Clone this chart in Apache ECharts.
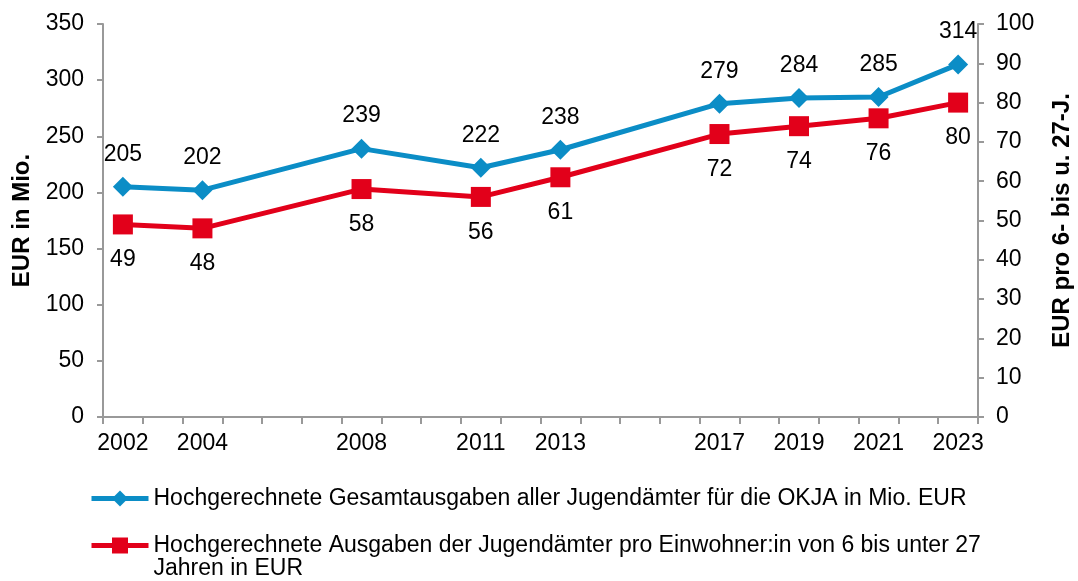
<!DOCTYPE html>
<html>
<head>
<meta charset="utf-8">
<script src="https://cdn.jsdelivr.net/npm/echarts@6/dist/echarts.min.js"></script>
<style>
  html, body { margin: 0; padding: 0; background: #fff; }
  #chart { width: 1078px; height: 581px; }
</style>
</head>
<body>
<div id="chart"></div>
<script>
(function() {
    var firstYear = 2002;
    var lastYear = 2023;
    var years = [2002, 2004, 2008, 2011, 2013, 2017, 2019, 2021, 2023];
    var totalMio = [205, 202, 239, 222, 238, 279, 284, 285, 314];
    var perHead = [49, 48, 58, 56, 61, 72, 74, 76, 80];

    var nameTotal = 'Hochgerechnete Gesamtausgaben aller Jugendämter für die OKJA in Mio. EUR';
    var namePerHead = 'Hochgerechnete Ausgaben der Jugendämter pro Einwohner:in von 6 bis unter 27 Jahren in EUR';

    // one category per calendar year, data only on survey years
    var cats = [];
    for (var y = firstYear; y <= lastYear; y++) cats.push(String(y));

    function toSlots(vals) {
        var out = cats.map(function() { return null; });
        years.forEach(function(yr, i) { out[yr - firstYear] = vals[i]; });
        return out;
    }

    var font = 'Liberation Sans, Arial, sans-serif';
    var fs = 23;
    var axisGray = '#999999';

    var myChart = echarts.init(document.getElementById('chart'));
    var option = {
        animation: false,
        textStyle: { fontFamily: font, color: '#000' },
        grid: { left: 103, right: 100, top: 24, bottom: 164, outerBoundsMode: 'none' },
        legend: [{
            data: [nameTotal],
            left: 84,
            top: 482,
            itemWidth: 57,
            itemHeight: 20,
            lineStyle: { width: 5 },
            textStyle: { fontFamily: font, fontSize: fs, color: '#000' }
        }, {
            data: [namePerHead],
            left: 84,
            top: 506,
            itemWidth: 57,
            itemHeight: 20,
            lineStyle: { width: 5 },
            // blank first line keeps the marker level with the first text line
            formatter: function(n) {
                return ' \n' + n.replace('27 Jahren', '27\nJahren');
            },
            textStyle: { fontFamily: font, fontSize: fs, color: '#000', lineHeight: 23 }
        }],
        xAxis: {
            type: 'category',
            data: cats,
            boundaryGap: true,
            axisLine: { lineStyle: { color: axisGray, width: 2 } },
            axisTick: { show: true, interval: 0, length: 7, lineStyle: { color: axisGray, width: 2 } },
            axisLabel: {
                interval: function(idx, val) { return years.indexOf(+val) >= 0; },
                fontSize: fs,
                color: '#000',
                margin: 15
            },
            splitLine: { show: false }
        },
        yAxis: [{
            type: 'value',
            min: 0,
            max: 350,
            interval: 50,
            name: 'EUR in Mio.',
            nameLocation: 'middle',
            nameGap: 68,
            nameTextStyle: { fontSize: 24, fontWeight: 'bold', color: '#000' },
            axisLine: { show: true, lineStyle: { color: axisGray, width: 2 } },
            axisTick: { show: true, length: 6, lineStyle: { color: axisGray, width: 2 } },
            axisLabel: { fontSize: fs, color: '#000', margin: 19 },
            splitLine: { show: false }
        }, {
            type: 'value',
            min: 0,
            max: 100,
            interval: 10,
            name: 'EUR pro 6- bis u. 27-J.',
            nameLocation: 'middle',
            nameGap: 72,
            nameRotate: 90,
            nameTextStyle: { fontSize: 24, fontWeight: 'bold', color: '#000' },
            axisLine: { show: true, lineStyle: { color: axisGray, width: 2 } },
            axisTick: { show: true, length: 6, lineStyle: { color: axisGray, width: 2 } },
            axisLabel: { fontSize: fs, color: '#000', margin: 18 },
            splitLine: { show: false }
        }],
        series: [{
            name: nameTotal,
            type: 'line',
            yAxisIndex: 0,
            data: toSlots(totalMio),
            connectNulls: true,
            symbol: 'diamond',
            symbolSize: 20,
            color: '#0b8dc6',
            lineStyle: { width: 5, color: '#0b8dc6' },
            itemStyle: { color: '#0b8dc6' },
            label: { show: true, position: 'top', distance: 11, fontSize: fs, color: '#000' }
        }, {
            name: namePerHead,
            type: 'line',
            yAxisIndex: 1,
            data: toSlots(perHead),
            connectNulls: true,
            symbol: 'rect',
            symbolSize: 20,
            color: '#e2001a',
            lineStyle: { width: 5, color: '#e2001a' },
            itemStyle: { color: '#e2001a' },
            label: { show: true, position: 'bottom', distance: 14, fontSize: fs, color: '#000' }
        }]
    };

    myChart.setOption(option);
})();
</script>
</body>
</html>
